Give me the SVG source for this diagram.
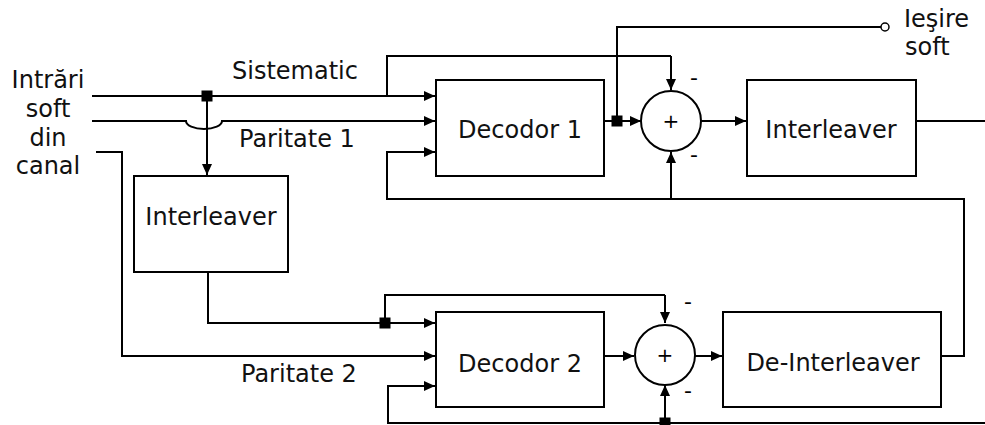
<svg xmlns="http://www.w3.org/2000/svg" width="985" height="425" viewBox="0 0 985 425">
<style>
.box{fill:#fff;stroke:#000;stroke-width:2}
.sum{fill:#fff;stroke:#000;stroke-width:2}
.ln{fill:none;stroke:#000;stroke-width:2}
.ar{fill:none;stroke:#000;stroke-width:2;marker-end:url(#ah)}
.t{font-family:"DejaVu Sans",Verdana,sans-serif;font-size:24px;fill:#111}
.c{text-anchor:middle}
.s{font-family:"DejaVu Sans",Verdana,sans-serif;font-size:22px;fill:#000;text-anchor:middle}
.p{font-family:"DejaVu Sans",Verdana,sans-serif;font-size:20px;fill:#000;text-anchor:middle}
.j{fill:#000}
</style>
<defs>
<marker id="ah" markerUnits="userSpaceOnUse" markerWidth="11" markerHeight="10" refX="11" refY="5" orient="auto">
<path d="M0,0 L11,5 L0,10 z" fill="#000"/>
</marker>
</defs>

<g id="connectors">
<path class="ar" d="M92,96 H435"/>
<path class="ln" d="M387,96 V56 H671"/>
<path class="ar" d="M671,56 V90"/>
<path class="ar" d="M92,121 H186 A18,8 0 0 0 222,121 H435"/>
<path class="ar" d="M207,96 V175"/>
<path class="ar" d="M96,152 H122 V356 H435"/>
<path class="ln" d="M208,272 V323 H385"/>
<path class="ar" d="M385,323 H435"/>
<path class="ln" d="M385,323 V295 H665"/>
<path class="ar" d="M665,295 V323"/>
<path class="ar" d="M604,121 H641"/>
<path class="ln" d="M617,121 V27 H881"/>
<path class="ar" d="M701,121 H746"/>
<path class="ln" d="M916,121 H985"/>
<path class="ar" d="M941,356 H964 V199 H387 V152 H435"/>
<path class="ar" d="M671,199 V152"/>
<path class="ar" d="M604,356 H634"/>
<path class="ar" d="M695,356 H722"/>
<path class="ar" d="M985,423 H388 V386 H435"/>
<path class="ar" d="M665,423 V385"/>
<rect class="j" x="201.5" y="90.5" width="11" height="11"/>
<rect class="j" x="611.5" y="115.5" width="11" height="11"/>
<rect class="j" x="379.5" y="317.5" width="11" height="11"/>
<rect class="j" x="659.5" y="417.5" width="11" height="11"/>
<circle cx="885" cy="27" r="4" fill="#fff" stroke="#000" stroke-width="1.5"/>
</g>

<g id="inputs">
<text class="t c" x="48" y="88">Intrări</text>
<text class="t c" x="48" y="117">soft</text>
<text class="t c" x="48" y="146">din</text>
<text class="t c" x="48" y="174">canal</text>
<text class="t" x="232" y="79">Sistematic</text>
<text class="t" x="239" y="147">Paritate 1</text>
<text class="t" x="241" y="382">Paritate 2</text>
</g>

<g id="output">
<text class="t" x="904" y="27">Ieşire</text>
<text class="t" x="905" y="55">soft</text>
</g>

<g id="decodor1">
<rect class="box" x="436" y="80" width="168" height="96"/>
<text class="t c" x="520" y="138">Decodor 1</text>
</g>

<g id="interleaver1">
<rect class="box" x="747" y="80" width="169" height="96"/>
<text class="t c" x="831" y="138">Interleaver</text>
</g>

<g id="interleaver2">
<rect class="box" x="134" y="176" width="154" height="96"/>
<text class="t c" x="211" y="225">Interleaver</text>
</g>

<g id="decodor2">
<rect class="box" x="436" y="312" width="168" height="95"/>
<text class="t c" x="520" y="372">Decodor 2</text>
</g>

<g id="deinterleaver">
<rect class="box" x="723" y="312" width="218" height="95"/>
<text class="t c" x="833" y="371">De-Interleaver</text>
</g>

<g id="sum1">
<circle class="sum" cx="671" cy="121" r="30"/>
<text class="p" x="671" y="128">+</text>
<text class="s" x="694" y="85">-</text>
<text class="s" x="694" y="162">-</text>
</g>

<g id="sum2">
<circle class="sum" cx="665" cy="355" r="30"/>
<text class="p" x="665" y="362">+</text>
<text class="s" x="688" y="309">-</text>
<text class="s" x="688" y="398">-</text>
</g>
</svg>
